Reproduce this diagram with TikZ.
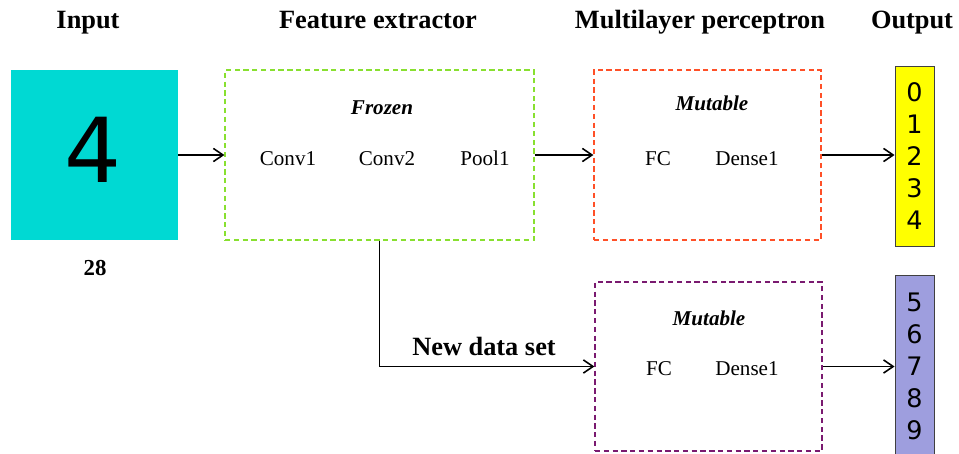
\documentclass[tikz,border=0pt]{standalone}
\usepackage{fontspec}
\setmainfont{Liberation Serif}
\newfontfamily\digitfont{DejaVu Sans}
\usetikzlibrary{arrows.meta}

\definecolor{inputcyan}{HTML}{00D9D3}
\definecolor{frozengreen}{HTML}{88E030}
\definecolor{mutablered}{HTML}{FF5028}
\definecolor{mutablepurple}{HTML}{7A1A70}
\definecolor{outyellow}{HTML}{FFFF00}
\definecolor{outlavender}{HTML}{9E9EDE}

\begin{document}
\begin{tikzpicture}[
    x=0.02cm, y=-0.02cm,
    title/.style={anchor=base, font=\fontsize{15}{18}\selectfont\bfseries},
    layer/.style={anchor=base, font=\fontsize{12}{14}\selectfont},
    tag/.style={anchor=base, font=\fontsize{12}{14}\selectfont\bfseries\itshape},
    frame/.style={draw, line width=0.7pt, dash pattern=on 3pt off 2pt, minimum height=3.4cm, inner sep=0pt},
    digits/.style={draw=black!75, line width=0.5pt, minimum width=0.78cm, inner sep=0pt, align=center, font=\digitfont\fontsize{14.5}{18.2}\selectfont},
    arr/.style={-{Straight Barb[length=5.5pt, width=7.5pt, line width=0.9pt]}, line width=0.65pt}
]
    \useasboundingbox (0,0) rectangle (959,453);

    % --- Column titles ---
    \node[title] (tin)  at (88, 29)  {Input};
    \node[title] (tfe)  at (378, 29) {Feature extractor};
    \node[title] (tmlp) at (700, 29) {Multilayer perceptron};
    \node[title] (tout) at (912, 29) {Output};

    % --- Input image ---
    \node[fill=inputcyan, minimum width=3.34cm, minimum height=3.4cm, inner sep=0pt] (inbox) at (94.5, 155) {};
    \node[font=\digitfont\fontsize{51}{60}\selectfont, inner sep=0pt] (four) at (93, 150) {4};
    \node[anchor=base, font=\fontsize{13}{15}\selectfont\bfseries] (size) at (95, 275) {28};

    % --- Feature extractor (frozen) ---
    \node[frame, draw=frozengreen, minimum width=6.18cm] (frozen) at (379.5, 155) {};
    \node[tag]   (frz) at (382, 114) {Frozen};
    \node[layer] (c1)  at (288, 165) {Conv1};
    \node[layer] (c2)  at (387, 165) {Conv2};
    \node[layer] (p1)  at (485, 165) {Pool1};

    % --- Multilayer perceptron (old data) ---
    \node[frame, draw=mutablered, minimum width=4.54cm] (mlp) at (707.5, 155) {};
    \node[tag]   (mut1) at (712, 110) {Mutable};
    \node[layer] (fc1)  at (658, 165) {FC};
    \node[layer] (d1)   at (747, 165) {Dense1};

    % --- Multilayer perceptron (new data) ---
    \node[frame, draw=mutablepurple, minimum width=4.54cm, minimum height=3.38cm] (newmlp) at (708.5, 366.5) {};
    \node[tag]   (mut2) at (709, 325) {Mutable};
    \node[layer] (fc2)  at (659, 375) {FC};
    \node[layer] (d2)   at (747, 375) {Dense1};

    % --- Output classes ---
    \node[digits, fill=outyellow, minimum height=3.6cm] (yellow) at (914.5, 156) {0\\1\\2\\3\\4};
    \node[digits, fill=outlavender, minimum height=3.64cm] (lavender) at (914.5, 366) {5\\6\\7\\8\\9};

    % --- Connectors ---
    \draw[arr] (inbox.east) -- (frozen.west);
    \draw[arr] (frozen.east) -- (mlp.west);
    \draw[arr] (mlp.east) -- (mlp.east -| yellow.west);
    \draw[arr] (frozen.south) |- (newmlp.west);
    \draw[arr] (newmlp.east) -- (newmlp.east -| lavender.west);
    \node[anchor=base, font=\fontsize{15}{18}\selectfont\bfseries] (newset) at (484, 355) {New data set};

\end{tikzpicture}
\end{document}
